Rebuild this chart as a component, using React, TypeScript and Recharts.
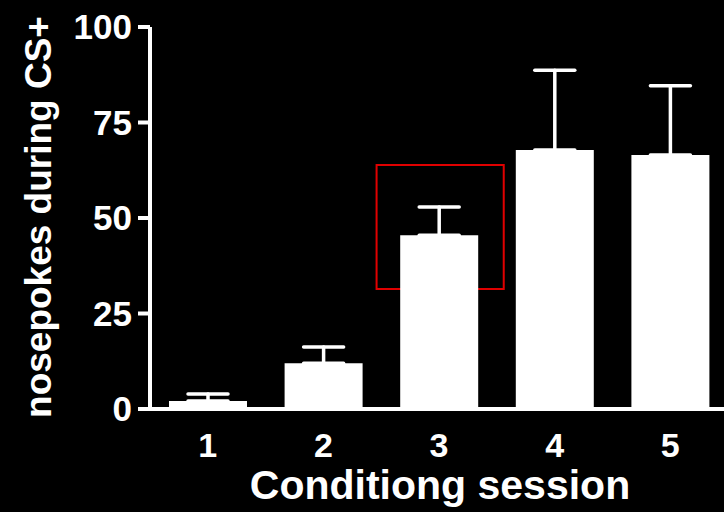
import { Bar, BarChart, ErrorBar, ReferenceArea, XAxis, YAxis } from "recharts";

const sessions = ["1", "2", "3", "4", "5"];
const meanPokes = [2.1, 12.0, 45.5, 67.8, 66.5];
const semPokes = [1.8, 4.2, 7.4, 20.9, 18.1];
const yTicks = [0, 25, 50, 75, 100];

// highlight box around session 3 (position on a hidden numeric axis, value range on y)
const boxX = [2.46, 3.56];
const boxY = [31.4, 63.9];

const data = sessions.map((s, i) => ({
  session: s,
  pos: i + 1,
  mean: meanPokes[i],
  err: [0, semPokes[i]],
}));

const font = "'Liberation Sans', Arial, sans-serif";

export default function App() {
  return (
    <div style={{ position: "absolute", top: 0, left: 0, width: 724, height: 512, overflow: "hidden", background: "#000" }}>
      <BarChart width={740} height={512} data={data} margin={{ top: 27, right: 12, left: 0, bottom: 0 }}>
        <XAxis
          dataKey="session"
          height={103}
          axisLine={{ stroke: "#fff", strokeWidth: 4 }}
          tickLine={false}
          tickSize={0}
          tickMargin={24}
          tick={{ fill: "#fff", fontSize: 34, fontWeight: 700, fontFamily: font }}
          label={({ viewBox }: any) => (
            <text
              x={viewBox.x + viewBox.width / 2 + 1}
              y={viewBox.y + 90}
              textAnchor="middle"
              fill="#fff"
              fontSize={41}
              fontWeight={700}
              fontFamily={font}
            >
              Conditiong session
            </text>
          )}
        />
        <XAxis xAxisId="ref" dataKey="pos" type="number" domain={[0.5, 5.5]} hide />
        <YAxis
          width={150}
          domain={[0, 100]}
          ticks={yTicks}
          interval={0}
          axisLine={{ stroke: "#fff", strokeWidth: 4 }}
          tickLine={{ stroke: "#fff", strokeWidth: 4 }}
          tickSize={12}
          tickMargin={6}
          tick={{ fill: "#fff", fontSize: 35, fontWeight: 700, fontFamily: font }}
          label={({ viewBox }: any) => (
            <text
              x={51}
              y={viewBox.y + viewBox.height / 2 - 1}
              transform={`rotate(-90, 51, ${viewBox.y + viewBox.height / 2 - 1})`}
              textAnchor="middle"
              fill="#fff"
              fontSize={37}
              fontWeight={700}
              fontFamily={font}
            >
              nosepokes during CS+
            </text>
          )}
        />
        <Bar dataKey="mean" fill="#fff" barSize={78} isAnimationActive={false}>
          <ErrorBar dataKey="err" direction="y" width={20} stroke="#fff" strokeWidth={3.5} strokeLinecap="round" isAnimationActive={false} />
        </Bar>
        <ReferenceArea
          xAxisId="ref"
          x1={boxX[0]}
          x2={boxX[1]}
          y1={boxY[0]}
          y2={boxY[1]}
          fill="none"
          fillOpacity={0}
          stroke="#e00000"
          strokeWidth={2}
          ifOverflow="visible"
        />
      </BarChart>
    </div>
  );
}
